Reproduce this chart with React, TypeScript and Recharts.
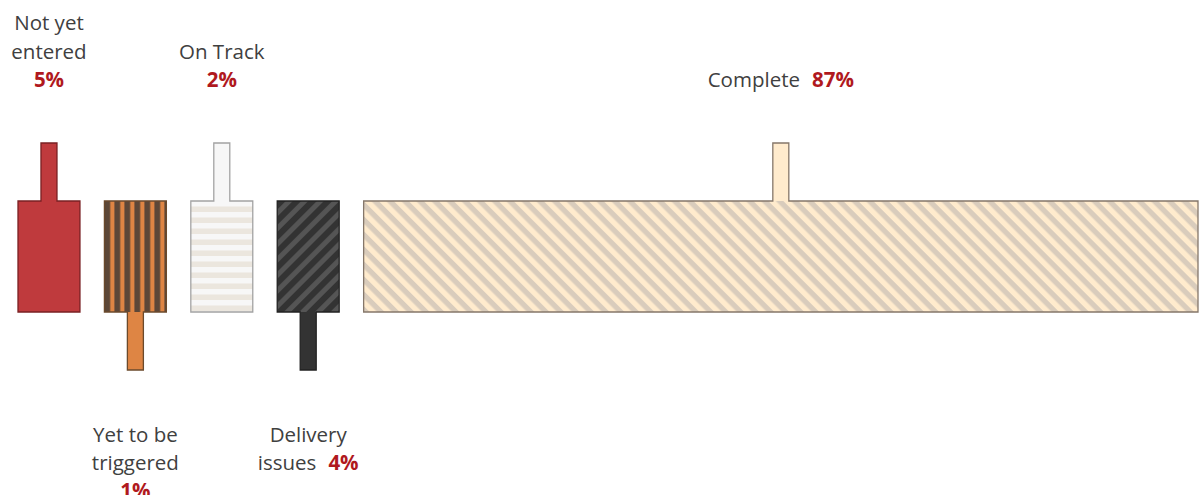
import React, { useEffect } from 'react';
import { BarChart, Bar, XAxis, YAxis } from 'recharts';

// status categories and their share of items (%)
const categories = ['Not yet entered', 'Yet to be triggered', 'On Track', 'Delivery issues', 'Complete'];
const shares = [5, 1, 2, 4, 87];
const stemSides = ['up', 'down', 'up', 'down', 'up'];

// small categories are drawn at a minimum size so they stay visible
const MIN_SHARE = 6.46;
const GAP_SHARE = 2.55;

const looks = [
    { a: '#BF3A3D', b: '#BF3A3D', stroke: '#7A2023', period: 10, angle: 0, frac: 0.5, off: 0 },
    { a: '#DE8544', b: '#5C4738', stroke: '#6B4A2C', period: 10, angle: 0, frac: 0.42, off: 5.8 },
    { a: '#F7F7F7', b: '#EBE6DE', stroke: '#A3A3A3', period: 11, angle: 90, frac: 0.5, off: 0 },
    { a: '#333333', b: '#555555', stroke: '#222222', period: 11, angle: 45, frac: 0.55, off: 0 },
    { a: '#FFEBCD', b: '#D9CCBC', stroke: '#85776A', period: 10.6, angle: -45, frac: 0.5, off: 0 },
];

const row: Record<string, string | number> = { row: 'status' };
categories.forEach((c, i) => {
    const size = Math.max(shares[i], MIN_SHARE);
    row[`s${i}`] = size + (i < categories.length - 1 ? GAP_SHARE : 0);
});
const data = [row];

const wrap = (words: string[], budget: number) => {
    const lines: string[][] = [];
    let cur: string[] = [];
    words.forEach((w) => {
        const test = [...cur, w].join(' ');
        if (cur.length && test.length > budget) {
            lines.push(cur);
            cur = [w];
        } else {
            cur.push(w);
        }
    });
    if (cur.length) lines.push(cur);
    return lines;
};

const makeShape = (i: number) => (props: any) => {
    const { x, y, width, height } = props;
    const last = i === categories.length - 1;
    const size = Math.max(shares[i], MIN_SHARE);
    const w = last ? width : (width * size) / (size + GAP_SHARE);
    const h = height;
    const cx = x + w / 2;
    const look = looks[i];
    const up = stemSides[i] === 'up';
    const sw = 16;
    const sh = 58;
    const pid = `pat-${i}`;
    const stemY = up ? y - sh : y + h;

    const outline = up
        ? `M${x},${y} L${cx - sw / 2},${y} L${cx - sw / 2},${y - sh} L${cx + sw / 2},${y - sh} L${cx + sw / 2},${y} L${x + w},${y} L${x + w},${y + h} L${x},${y + h} Z`
        : `M${x},${y} L${x + w},${y} L${x + w},${y + h} L${cx + sw / 2},${y + h} L${cx + sw / 2},${y + h + sh} L${cx - sw / 2},${y + h + sh} L${cx - sw / 2},${y + h} L${x},${y + h} Z`;

    const pct = `${shares[i]}%`;
    const lines = wrap([...categories[i].split(' '), pct], Math.floor(w / 6.5));
    const lh = up ? 28.5 : 28;
    const textY = (k: number) =>
        up ? y - sh - 64 - (lines.length - 1 - k) * lh : y + h + sh + 64 + k * lh;

    return (
        <g>
            <defs>
                <pattern
                    id={pid}
                    patternUnits="userSpaceOnUse"
                    width={look.period}
                    height={look.period}
                    patternTransform={`translate(${x},${y}) rotate(${look.angle})`}
                >
                    <rect width={look.period} height={look.period} fill={look.b} />
                    <rect x={look.off} width={look.period * look.frac} height={look.period} fill={look.a} />
                </pattern>
            </defs>
            <rect x={x} y={y} width={w} height={h} fill={`url(#${pid})`} />
            <rect x={cx - sw / 2} y={stemY} width={sw} height={sh} fill={look.a} />
            <path d={outline} fill="none" stroke={look.stroke} strokeWidth={1.3} />
            {lines.map((ln, k) => {
                const hasPct = k === lines.length - 1 && ln[ln.length - 1] === pct;
                const words2 = hasPct ? ln.slice(0, -1) : ln;
                return (
                    <text
                        key={k}
                        x={cx}
                        y={textY(k)}
                        textAnchor="middle"
                        dominantBaseline="central"
                        fontFamily="'Open Sans', sans-serif"
                        fontSize={20.5}
                        fill="#404040"
                    >
                        {words2.length > 0 && <tspan>{words2.join(' ')}</tspan>}
                        {hasPct && (
                            <tspan dx={words2.length ? 12 : 0} fill="#B0191E" fontWeight="bold">
                                {pct}
                            </tspan>
                        )}
                    </text>
                );
            })}
        </g>
    );
};

const App = () => {
    useEffect(() => {
        document.documentElement.style.overflow = 'hidden';
    }, []);

    return (
        <div style={{ position: 'absolute', left: 8, top: 8, width: 1194, height: 487, background: '#fff' }}>
            <BarChart
                width={1194}
                height={487}
                data={data}
                layout="vertical"
                margin={{ top: 120, right: 4, bottom: 110, left: 10 }}
                barSize={111}
            >
                <XAxis type="number" hide domain={[0, 'dataMax']} />
                <YAxis type="category" dataKey="row" hide />
                {categories.map((c, i) => (
                    <Bar
                        key={c}
                        dataKey={`s${i}`}
                        stackId="a"
                        isAnimationActive={false}
                        shape={makeShape(i)}
                    />
                ))}
            </BarChart>
        </div>
    );
};

export default App;
